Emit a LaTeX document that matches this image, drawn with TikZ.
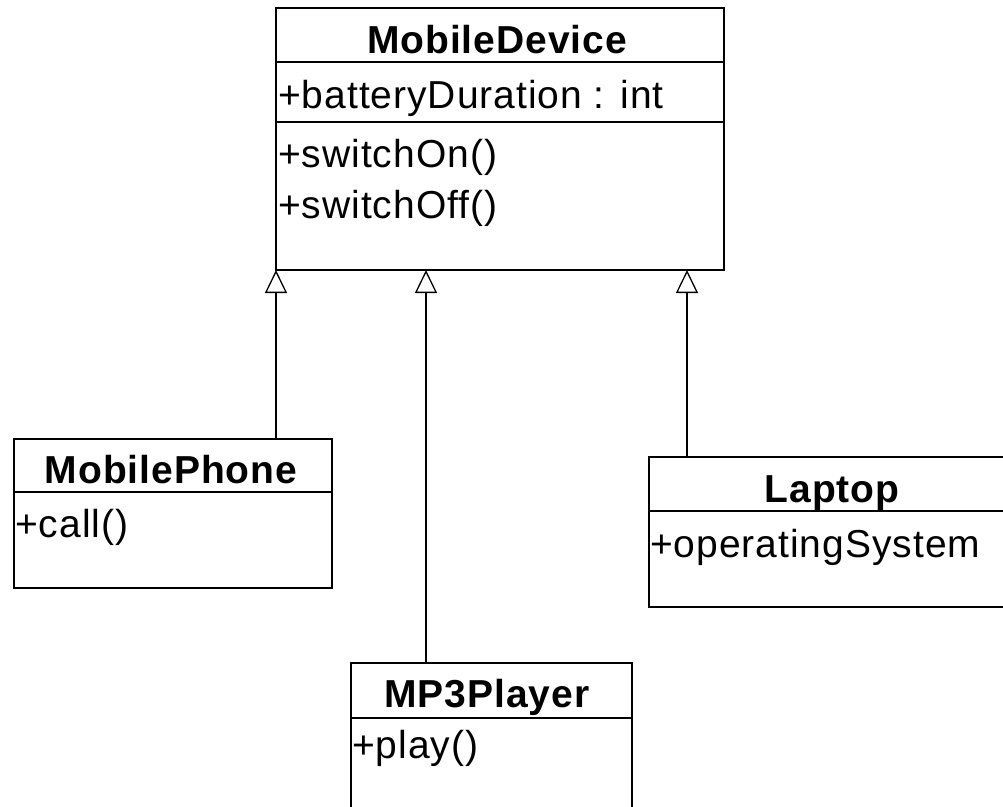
\documentclass[tikz,border=0pt]{standalone}
\usepackage{fontspec}
\setmainfont{Liberation Sans}[LetterSpace=2.5]
\usetikzlibrary{arrows.meta}
\begin{document}
\begin{tikzpicture}[x=1pt,y=-1pt,
  box/.style={draw,line width=1.3pt,anchor=north west,inner sep=0pt,outer sep=0pt,rectangle},
  txt/.style={anchor=base west,inner sep=0pt,font=\fontsize{39}{46}\selectfont},
  ttl/.style={anchor=base,inner sep=0pt,font=\fontsize{39}{46}\selectfont\bfseries},
  sep/.style={line width=1.3pt},
  gen/.style={line width=1.3pt,-{Triangle[open,length=23pt,width=22pt,line width=1.3pt]}}]
\useasboundingbox (0,0) rectangle (1003,806);
\clip (0,0) rectangle (1003,806);
% MobileDevice
\node[box,minimum width=448pt,minimum height=262pt] (dev) at (276,8) {};
\draw[sep] (dev.west |- 0,62) -- (dev.east |- 0,62);
\draw[sep] (dev.west |- 0,122) -- (dev.east |- 0,122);
\node[ttl] (devT) at (497,53) {MobileDevice};
\node[txt] (devA) at (278,108) {+batteryDuration : int};
\node[txt] (devM1) at (278,167) {+switchOn()};
\node[txt] (devM2) at (278,218) {+switchOff()};
% MobilePhone
\node[box,minimum width=318pt,minimum height=149pt] (phone) at (14,439) {};
\draw[sep] (phone.west |- 0,492) -- (phone.east |- 0,492);
\node[ttl] (phoneT) at (171,483) {MobilePhone};
\node[txt] (phoneM) at (15,537) {+call()};
% Laptop
\node[box,minimum width=366pt,minimum height=150pt] (laptop) at (649,457) {};
\draw[sep] (laptop.west |- 0,511) -- (laptop.east |- 0,511);
\node[ttl] (laptopT) at (832,502) {Laptop};
\node[txt] (laptopA) at (650,557) {+operatingSystem};
% MP3Player
\node[box,minimum width=281pt,minimum height=200pt] (mp3) at (351,663) {};
\draw[sep] (mp3.west |- 0,718) -- (mp3.east |- 0,718);
\node[ttl] (mp3T) at (487,707) {MP3Player};
\node[txt] (mp3M) at (352,758) {+play()};
% generalizations
\draw[gen] ([xshift=262pt]phone.north west) -- ([xshift=262pt]phone.north west |- dev.south);
\draw[gen] ([xshift=75pt]mp3.north west) -- ([xshift=75pt]mp3.north west |- dev.south);
\draw[gen] ([xshift=38pt]laptop.north west) -- ([xshift=38pt]laptop.north west |- dev.south);
\end{tikzpicture}
\end{document}
